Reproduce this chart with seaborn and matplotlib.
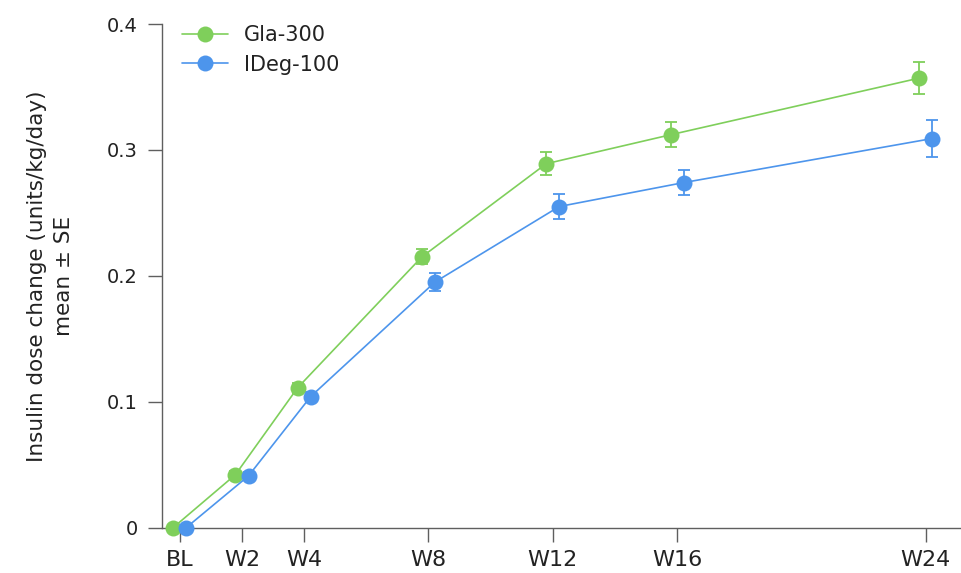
import matplotlib
matplotlib.use("Agg")
import matplotlib.pyplot as plt
import seaborn as sns
import pandas as pd
import numpy as np

# Visit schedule and tick labels
visit_labels = ["BL", "W2", "W4", "W8", "W12", "W16", "W24"]
visit_weeks = [0, 2, 4, 8, 12, 16, 24]

# Insulin dose change (units/kg/day), mean and standard error
gla_mean = [0.000, 0.042, 0.111, 0.215, 0.289, 0.312, 0.357]
gla_se = [0.002, 0.003, 0.004, 0.006, 0.009, 0.010, 0.013]
ideg_mean = [0.000, 0.041, 0.104, 0.195, 0.255, 0.274, 0.309]
ideg_se = [0.002, 0.003, 0.004, 0.007, 0.010, 0.010, 0.015]

series_names = ["Gla-300", "IDeg-100"]
colors = {"Gla-300": "#7fcf5b", "IDeg-100": "#4d95ec"}
dodge = {"Gla-300": -0.21, "IDeg-100": 0.21}

frames = []
for name, mean, se in [("Gla-300", gla_mean, gla_se), ("IDeg-100", ideg_mean, ideg_se)]:
    frames.append(pd.DataFrame({
        "week": np.array(visit_weeks, dtype=float) + dodge[name],
        "dose": mean,
        "se": se,
        "treatment": name,
    }))
df = pd.concat(frames, ignore_index=True)

sns.set_style("ticks")
plt.rcParams["font.family"] = ["DejaVu Sans"]

fig = plt.figure(figsize=(9.62, 5.73), dpi=100)
ax = fig.add_axes([0.1679, 0.0794, 0.8321, 0.8787])

axis_gray = "#5f5f5f"

for name in series_names:
    sub = df[df["treatment"] == name]
    ax.errorbar(sub["week"], sub["dose"], yerr=sub["se"], fmt="none",
                ecolor=colors[name], elinewidth=1.3, capsize=4, capthick=1.3,
                zorder=3, clip_on=False)

sns.lineplot(data=df, x="week", y="dose", hue="treatment", palette=colors,
             hue_order=series_names, marker="o", markersize=11.5,
             markeredgewidth=0, linewidth=1.2, ax=ax, legend=False,
             zorder=4, clip_on=False)

ax.set_xlim(-0.589, 25.17)
ax.set_ylim(0, 0.4)
ax.set_xticks(visit_weeks)
ax.set_xticklabels(visit_labels)
ax.set_yticks([0, 0.1, 0.2, 0.3, 0.4])
ax.set_yticklabels(["0", "0.1", "0.2", "0.3", "0.4"])

ax.tick_params(axis="x", labelsize=16, length=10, width=1.0, color=axis_gray,
               labelcolor="#222222", pad=6)
ax.tick_params(axis="y", labelsize=14, length=10, width=1.0, color=axis_gray,
               labelcolor="#222222", pad=7)

sns.despine(ax=ax)
for side in ["left", "bottom"]:
    ax.spines[side].set_color(axis_gray)
    ax.spines[side].set_linewidth(1.0)
    ax.spines[side].set_zorder(2)

ax.set_xlabel("")
ax.set_ylabel("Insulin dose change (units/kg/day)\nmean ± SE", fontsize=15.5,
              color="#222222", labelpad=24, linespacing=1.4)

handles = [
    plt.Line2D([], [], color=colors[n], marker="o", markersize=11.5,
               markeredgewidth=0, linewidth=1.2)
    for n in series_names
]
ax.legend(handles, series_names, loc="upper left",
          bbox_to_anchor=(0.002, 1.035), frameon=False, fontsize=15,
          handlelength=2.2, handletextpad=0.8, labelspacing=0.45,
          labelcolor="#222222")

fig.savefig("out.png", dpi=100)
